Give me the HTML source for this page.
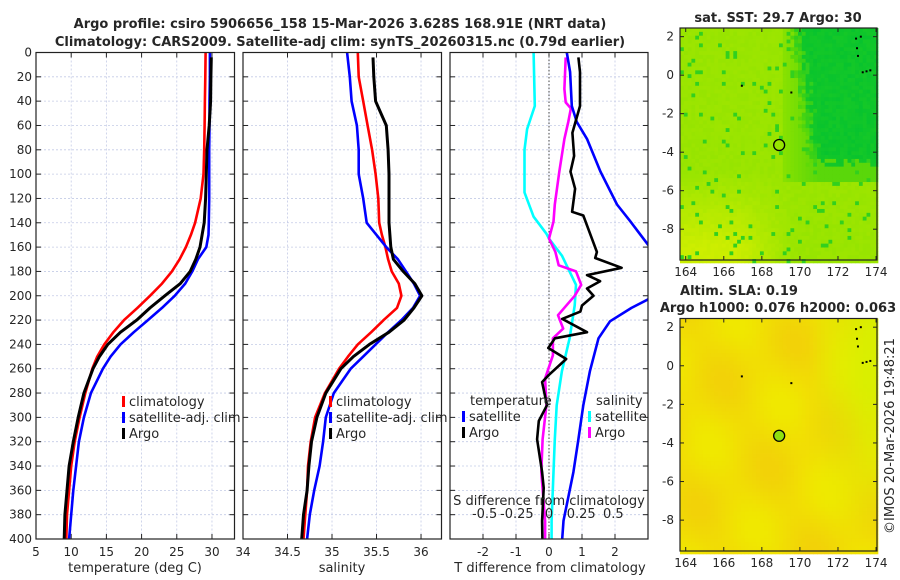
<!DOCTYPE html>
<html><head><meta charset="utf-8"><style>
html,body{margin:0;padding:0;background:#fff;}
svg{display:block;font-family:"DejaVu Sans","Liberation Sans",sans-serif;}
text{fill:#262626;}
</style></head><body>
<svg id="fig" width="900" height="580" viewBox="0 0 900 580" xmlns="http://www.w3.org/2000/svg">
<text x="340" y="28" text-anchor="middle" font-size="13" font-weight="bold" fill="#000">Argo profile: csiro 5906656_158 15-Mar-2026 3.628S 168.91E (NRT data)</text>
<text x="340" y="46" text-anchor="middle" font-size="13" font-weight="bold" fill="#000">Climatology: CARS2009. Satellite-adj clim: synTS_20260315.nc (0.79d earlier)</text>
<g id="g"></g>
</svg>
<script>
// ---- data ----
const tDepth = [0,20,40,60,80,100,120,140,150,160,170,180,190,200,210,220,230,240,250,260,280,300,320,340,360,380,400];
const climT = [29.1,29.05,29.0,28.95,28.9,28.8,28.4,27.6,27.0,26.3,25.4,24.3,22.9,21.2,19.4,17.5,16.0,14.7,13.7,13.0,12.0,11.2,10.5,10.0,9.7,9.4,9.3];
const satT  = [29.7,29.7,29.65,29.65,29.6,29.6,29.6,29.55,29.5,29.2,28.0,27.2,26.2,24.7,22.9,20.9,18.9,17.0,15.6,14.5,12.8,11.8,11.1,10.7,10.3,10.0,9.7];
const argoT = [29.9,29.85,29.8,29.6,29.3,29.2,29.1,28.9,28.6,28.3,27.7,26.9,25.5,23.3,21.2,19.3,17.0,15.2,14.0,13.1,11.8,11.0,10.3,9.7,9.4,9.1,9.0];
const climS = [35.29,35.3,35.35,35.4,35.45,35.49,35.52,35.53,35.56,35.6,35.63,35.67,35.75,35.78,35.73,35.58,35.44,35.29,35.18,35.08,34.92,34.81,34.76,34.73,34.72,34.7,34.68];
const satS  = [35.17,35.2,35.22,35.28,35.3,35.3,35.35,35.39,35.5,35.61,35.74,35.83,35.92,35.99,35.91,35.78,35.63,35.49,35.35,35.21,35.02,34.93,34.9,34.86,34.8,34.75,34.72];
const argoS = [35.46,35.47,35.49,35.61,35.63,35.64,35.64,35.64,35.65,35.66,35.69,35.8,35.93,36.01,35.92,35.81,35.64,35.42,35.24,35.10,34.93,34.83,34.77,34.74,34.72,34.68,34.66];
const argoDTDepth = [4,16,44,66,85,98,112,131,134,153,164,169,177,183,188,194,200,208,213,219,230,235,243,252,265,271,290,303,318,345,358,385,400];
const argoDT = [0.89,0.94,0.94,0.71,0.76,0.65,0.79,0.70,1.04,1.30,1.45,1.40,2.20,1.15,1.55,1.15,1.35,1.00,0.95,0.40,1.15,0.18,-0.02,0.52,0.0,-0.21,-0.06,-0.31,-0.36,-0.21,-0.16,-0.21,-0.20];
const argoDSDepth = [4,30,41,46,57,71,98,125,139,153,164,175,180,191,200,216,227,235,249,260,268,290,318,345,385,400];
const argoDS = [0.13,0.12,0.13,0.17,0.15,0.12,0.08,0.045,0.035,0.0,0.05,0.075,0.21,0.25,0.2,0.07,0.11,0.03,0.03,-0.005,-0.03,-0.02,-0.05,-0.06,-0.03,-0.03];
const satDSDepth = [0,44,63,80,115,135,149,153,167,191,208,235,262,290,318,345,385,400];
const satDS = [-0.12,-0.11,-0.17,-0.19,-0.19,-0.12,-0.02,0,0.1,0.21,0.2,0.16,0.1,0.06,0.045,0.035,0.02,0.02];
const satDTDepth = [0,16,44,57,71,98,125,139,158,178,203,210,221,235,262,290,318,345,385,400];
const satDT = [0.54,0.64,0.69,0.84,1.15,1.56,2.06,2.47,3.0,3.6,3.0,2.5,1.85,1.5,1.24,1.04,0.89,0.74,0.44,0.4];
const depthTicks = [0,20,40,60,80,100,120,140,160,180,200,220,240,260,280,300,320,340,360,380,400];
const tTicks = [5,10,15,20,25,30];
const sTicks = [34,34.5,35,35.5,36];
const sTickLabels = ["34","34.5","35","35.5","36"];
const dtTicks = [-2,-1,0,1,2];
const dsTicks = [-0.5,-0.25,0,0.25,0.5];
const dsTickLabels = ["-0.5","-0.25","0","0.25","0.5"];
const lonTicks = [164,166,168,170,172,174];
const latTicks = [2,0,-2,-4,-6,-8];
const argoLon = 168.91, argoLat = -3.628;

const NS = "http://www.w3.org/2000/svg";
const G = document.getElementById('g');
function mk(tag, attrs, parent){ const e=document.createElementNS(NS,tag); for(const k in attrs) e.setAttribute(k,attrs[k]); (parent||G).appendChild(e); return e; }
function txt(x,y,s,attrs,parent){ const e=mk('text',Object.assign({x:x,y:y,'font-size':12},attrs||{}),parent); e.textContent=s; return e; }

const Y0=52.5, Y1=539;
const yD = d => Y0 + d*(Y1-Y0)/400;

function panel(name,x0,x1,xmin,xmax){
  const sx = v => x0 + (v-xmin)*(x1-x0)/(xmax-xmin);
  const g = mk('g',{});
  
  
  const cid='clip-'+name;
  const cp=mk('clipPath',{id:cid},g); mk('rect',{x:x0,y:Y0,width:x1-x0,height:Y1-Y0},cp);
  return {g,sx,x0,x1,cid};
}
function grid(P,xt,showY){
  for(const d of depthTicks){
    const y=yD(d);
    if(d>0&&d<400){ const l=mk('line',{x1:P.x0,x2:P.x1,y1:y,y2:y,stroke:'#c4cbe6','stroke-width':0.8,'stroke-dasharray':'2,2'},P.g);
        }
    mk('line',{x1:P.x0,x2:P.x0+5,y1:y,y2:y,stroke:'#222','stroke-width':1},P.g);
    mk('line',{x1:P.x1-5,x2:P.x1,y1:y,y2:y,stroke:'#222','stroke-width':1},P.g);
    if(showY){ const t=txt(P.x0-4,y+4,String(d),{'text-anchor':'end'},P.g);
        }
  }
  for(const v of xt){
    const x=P.sx(v);
    if(x>P.x0+1&&x<P.x1-1){ const l=mk('line',{x1:x,x2:x,y1:Y0,y2:Y1,stroke:'#c4cbe6','stroke-width':0.8,'stroke-dasharray':'2,2'},P.g);
        }
    mk('line',{x1:x,x2:x,y1:Y1,y2:Y1-5,stroke:'#222'},P.g);
    mk('line',{x1:x,x2:x,y1:Y0,y2:Y0+5,stroke:'#222'},P.g);
  }
}
function frame(P){ const r=mk('rect',{x:P.x0,y:Y0,width:P.x1-P.x0,height:Y1-Y0,fill:'none',stroke:'#222','stroke-width':1.2},P.g);
    }
function line(P,vals,depths,color,name,w){
  const pts=vals.map((v,i)=>P.sx(v).toFixed(1)+','+yD(depths[i]).toFixed(1)).join(' ');
  const l=mk('polyline',{points:pts,fill:'none',stroke:color,'stroke-width':w||2.6,'stroke-linejoin':'round','clip-path':'url(#'+P.cid+')'},P.g);
  
  
}
function legendItem(P,x,y,color,label,name){
  mk('rect',{x:x,y:y-10,width:3,height:11,fill:color},P.g);
  const t=txt(x+7,y,label,{'font-size':13},P.g);
  
  
}

// Panel 1 temperature
const P1=panel('temperature-panel',36,234.5,5,33.2);
grid(P1,tTicks,true);
line(P1,climT,tDepth,'#ff0000','climatology-temperature-line');
line(P1,satT,tDepth,'#0000ff','satellite-temperature-line');
line(P1,argoT,tDepth.map(d=>Math.max(d,4)),'#000','argo-temperature-line',3);
frame(P1);
for(const v of tTicks){ const t=txt(P1.sx(v),556,String(v),{'text-anchor':'middle'},P1.g);   }
{const t=txt(135,572,'temperature (deg C)',{'text-anchor':'middle','font-size':13},P1.g);  }
legendItem(P1,122,406,'#ff0000','climatology','legend-climatology');
legendItem(P1,122,422,'#0000ff','satellite-adj. clim','legend-satellite-adj');
legendItem(P1,122,438,'#000','Argo','legend-argo');

// Panel 2 salinity
const P2=panel('salinity-panel',243,441.5,34,36.23);
grid(P2,sTicks,false);
line(P2,climS,tDepth,'#ff0000','climatology-salinity-line');
line(P2,satS,tDepth,'#0000ff','satellite-salinity-line');
line(P2,argoS,tDepth.map(d=>Math.max(d,4)),'#000','argo-salinity-line',3);
frame(P2);
sTicks.forEach((v,i)=>{ const t=txt(P2.sx(v),556,sTickLabels[i],{'text-anchor':'middle'},P2.g);   });
{const t=txt(342,572,'salinity',{'text-anchor':'middle','font-size':13},P2.g);  }
legendItem(P2,329,406,'#ff0000','climatology','legend-climatology-2');
legendItem(P2,329,422,'#0000ff','satellite-adj. clim','legend-satellite-adj-2');
legendItem(P2,329,438,'#000','Argo','legend-argo-2');

// Panel 3 differences
const P3=panel('difference-panel',450,648,-3,3);
const sxS = v => P3.sx(v*3.9);
grid(P3,dtTicks,false);
{const x=P3.sx(0); const l=mk('line',{x1:x,x2:x,y1:Y0,y2:Y1,stroke:'#444','stroke-width':1,'stroke-dasharray':'1.5,2'},P3.g);  }
const P3s={g:P3.g,sx:sxS,cid:P3.cid};
line(P3s,satDS,satDSDepth,'#00ffff','satellite-salinity-diff-line');
line(P3s,argoDS,argoDSDepth,'#ff00ff','argo-salinity-diff-line');
line(P3,satDT,satDTDepth,'#0000ff','satellite-temperature-diff-line');
line(P3,argoDT,argoDTDepth,'#000','argo-temperature-diff-line');
frame(P3);
dtTicks.forEach(v=>{ const t=txt(P3.sx(v),556,String(v),{'text-anchor':'middle'},P3.g);   });
dsTicks.forEach((v,i)=>{ const t=txt(sxS(v),518,dsTickLabels[i],{'text-anchor':'middle','font-size':13},P3.g);   });
{const t=txt(549,505,'S difference from climatology',{'text-anchor':'middle','font-size':13},P3.g);  }
{const t=txt(550,572,'T difference from climatology',{'text-anchor':'middle','font-size':13},P3.g);  }
{const t=txt(470,405,'temperature',{'font-size':13},P3.g);  }
{const t=txt(596,405,'salinity',{'font-size':13},P3.g);  }
legendItem(P3,462,421,'#0000ff','satellite','legend-t-satellite');
legendItem(P3,462,437,'#000','Argo','legend-t-argo');
legendItem(P3,588,421,'#00ffff','satellite','legend-s-satellite');
legendItem(P3,588,437,'#ff00ff','Argo','legend-s-argo');

// ---- maps ----
function hash(i,j){ let h=(i*374761393 + j*668265263)|0; h=(h^(h>>>13))*1274126177|0; return ((h^(h>>>16))>>>0)/4294967295; }
function map(name,top,bottom,colorFn,circleFill){
  const x0=680,x1=877, lonMin=163.7, lonMax=174.05, latMax=2.45, latMin=-9.6;
  const sx=v=>x0+(v-lonMin)*(x1-x0)/(lonMax-lonMin);
  const sy=v=>top+(latMax-v)*(bottom-top)/(latMax-latMin);
  const g=mk('g',{});
  
  
  const step=0.2;
  for(let lon=lonMin;lon<lonMax;lon+=step){
    for(let lat=latMax;lat>latMin;lat-=step){
      const i=Math.round(lon/step), j=Math.round(lat/step);
      const c=colorFn(lon+step/2,lat-step/2,hash(i,j));
      mk('rect',{x:sx(lon).toFixed(2),y:sy(lat).toFixed(2),width:(sx(lon+step)-sx(lon)+0.4).toFixed(2),height:(sy(lat-step)-sy(lat)+0.4).toFixed(2),fill:c},g);
    }
  }
  [[172.95,1.9],[173.0,1.4],[173.05,1.0],[173.2,2.0],[173.3,0.15],[173.5,0.2],[173.7,0.25],[166.95,-0.55],[169.55,-0.9]].forEach(p=>{
    mk('rect',{x:sx(p[0])-1,y:sy(p[1])-1,width:2,height:2,fill:'#000'},g);
  });
  const ci=mk('circle',{cx:sx(argoLon),cy:sy(argoLat),r:5.5,fill:circleFill,stroke:'#000','stroke-width':1.3},g);
  
  
  mk('rect',{x:x0,y:top,width:x1-x0,height:bottom-top,fill:'none',stroke:'#222','stroke-width':1.2},g);
  lonTicks.forEach(v=>{ const x=sx(v); mk('line',{x1:x,x2:x,y1:bottom,y2:bottom-4,stroke:'#222'},g); mk('line',{x1:x,x2:x,y1:top,y2:top+4,stroke:'#222'},g);
    const t=txt(x,bottom+16,String(v),{'text-anchor':'middle'},g);   });
  latTicks.forEach(v=>{ const y=sy(v); mk('line',{x1:x0,x2:x0+4,y1:y,y2:y,stroke:'#222'},g); mk('line',{x1:x1-4,x2:x1,y1:y,y2:y,stroke:'#222'},g);
    const t=txt(x0-6,y+4,String(v),{'text-anchor':'end'},g);   });
}
function mix(a,b,t){ t=Math.max(0,Math.min(1,t)); return 'rgb('+a.map((v,k)=>Math.round(v+(b[k]-v)*t)).join(',')+')'; }
function sstColor(lon,lat,n){
  const bound=169.6+(2-lat)*0.13 + (n-0.5)*0.5;
  let dark = lat>-4.6+(n-0.5)*0.6 ? (lon-bound)/0.9 : -1;
  if(dark>0.55) return mix([20,200,40],[0,192,50],n*0.6);
  let y=Math.max(0,Math.min(1,(-lat-5)/4))*Math.max(0,Math.min(1,(168.5-lon)/3+0.4));
  let base = mix([150,228,0],[205,238,0],y*0.9+n*0.15);
  if(lon>169 && lat>-5.5) base=mix([140,226,0],[90,215,10],(lon-169)/2);
  if(dark>0) base=mix([100,218,5],[40,205,30],dark*1.8);
  if(n>0.94) return 'rgb(50,208,30)';
  return base;
}
function slaColor(lon,lat,n){
  const o=0.5+0.3*Math.sin(lon*1.3+lat*0.7)+0.25*Math.cos(lat*1.1-lon*0.6);
  const g=Math.max(0,Math.min(1,(lon-170.5)/3))*Math.max(0,Math.min(1,(lat+9)/8));
  const c1=[240,232,0],c2=[242,205,10],c3=[215,240,0];
  const a=Math.max(0,Math.min(1,o));
  const r=c1.map((v,k)=>v+(c2[k]-v)*a*0.8);
  return mix(r,c3,g*0.9);
}
map('sst-map',28,260,sstColor,'none');
map('sla-map',318.5,551,slaColor,'#8ee010');
{const t=txt(778,22,'sat. SST: 29.7 Argo: 30',{'text-anchor':'middle','font-size':13,'font-weight':'bold',fill:'#000'});  }
{const t=txt(739,295,'Altim. SLA: 0.19',{'text-anchor':'middle','font-size':13,'font-weight':'bold',fill:'#000'});  }
{const t=txt(778,312,'Argo h1000: 0.076 h2000: 0.063',{'text-anchor':'middle','font-size':13,'font-weight':'bold',fill:'#000'});  }
{const t=txt(0,0,'©IMOS 20-Mar-2026 19:48:21',{'text-anchor':'middle','font-size':13,transform:'translate(894,436) rotate(-90)'});  }
</script>
</body></html>
